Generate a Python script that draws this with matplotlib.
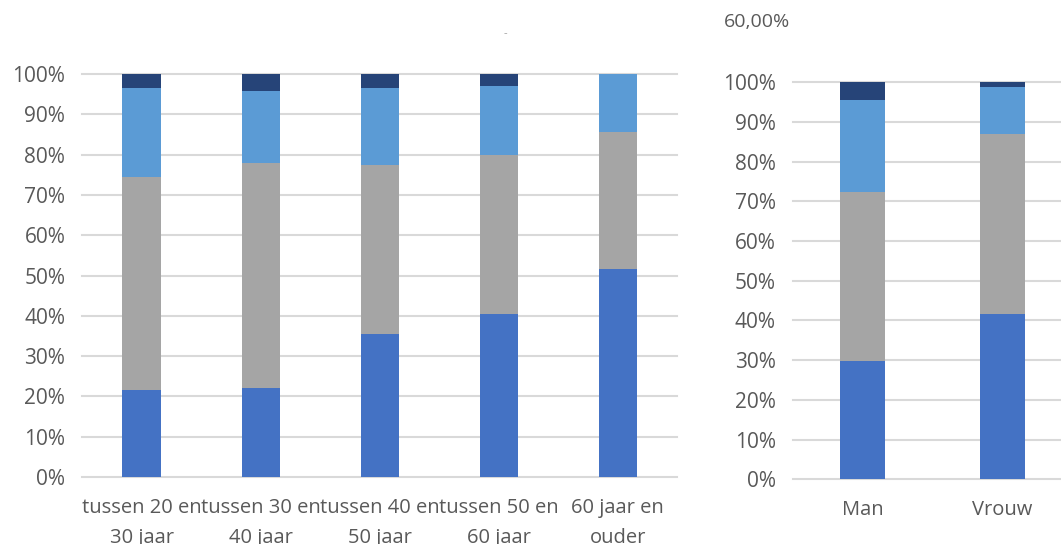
import numpy as np
import matplotlib
matplotlib.use("Agg")
import matplotlib.pyplot as plt

plt.rcParams['font.family'] = ['Open Sans', 'DejaVu Sans']

# leeftijdsgroepen (links)
age_groups = ["tussen 20 en\n30 jaar", "tussen 30 en\n40 jaar", "tussen 40 en\n50 jaar",
              "tussen 50 en\n60 jaar", "60 jaar en\nouder"]
age_s1 = [21.7, 22.2, 35.4, 40.4, 51.5]
age_s2 = [52.8, 55.7, 42.0, 39.5, 34.2]
age_s3 = [21.9, 18.0, 19.0, 17.1, 14.3]
age_s4 = [3.6, 4.1, 3.6, 3.0, 0.0]

# geslacht (rechts)
sexes = ["Man", "Vrouw"]
sex_s1 = [29.9, 41.7]
sex_s2 = [42.4, 45.2]
sex_s3 = [23.3, 11.9]
sex_s4 = [4.4, 1.2]

colors = ['#4472C4', '#A5A5A5', '#5B9BD5', '#264478']
txtcol = '#595959'

fig = plt.figure(figsize=(10.61, 5.44), dpi=100)


def stacked(ax, cats, series, width):
    x = np.arange(len(cats))
    bottom = np.zeros(len(cats))
    for vals, c in zip(series, colors):
        v = np.array(vals) / 100.0
        ax.bar(x, v, width, bottom=bottom, color=c, zorder=3)
        bottom += v
    ax.set_xlim(-0.5, len(cats) - 0.5)
    ax.set_ylim(0, 1)
    ax.set_yticks(np.arange(0, 1.01, 0.1))
    ax.set_yticklabels([f"{int(round(t * 100))}%" for t in np.arange(0, 1.01, 0.1)])
    ax.yaxis.grid(True, color='#d9d9d9', linewidth=1.5, zorder=0)
    ax.set_axisbelow(True)
    for s in ax.spines.values():
        s.set_visible(False)
    ax.tick_params(axis='both', length=0, colors=txtcol)
    ax.tick_params(axis='y', pad=12, labelsize=15)
    ax.set_xticks(x)
    ax.set_xticklabels(cats, linespacing=1.7, fontsize=14.5)
    ax.tick_params(axis='x', pad=15)
    for gl in ax.get_ygridlines():
        gl.set_clip_on(False)


ax1 = fig.add_axes([0.0773, 0.123, 0.561, 0.741])
stacked(ax1, age_groups, [age_s1, age_s2, age_s3, age_s4], 0.32)

ax2 = fig.add_axes([0.747, 0.119, 0.264, 0.730])
stacked(ax2, sexes, [sex_s1, sex_s2, sex_s3, sex_s4], 0.32)

fig.text(0.7135, 0.96, "60,00%", color=txtcol, fontsize=14, ha='center', va='center')
fig.text(0.476, 0.938, "-", color='#a0a0a0', fontsize=8, ha='center', va='center')

fig.savefig("out.png", dpi=100)
